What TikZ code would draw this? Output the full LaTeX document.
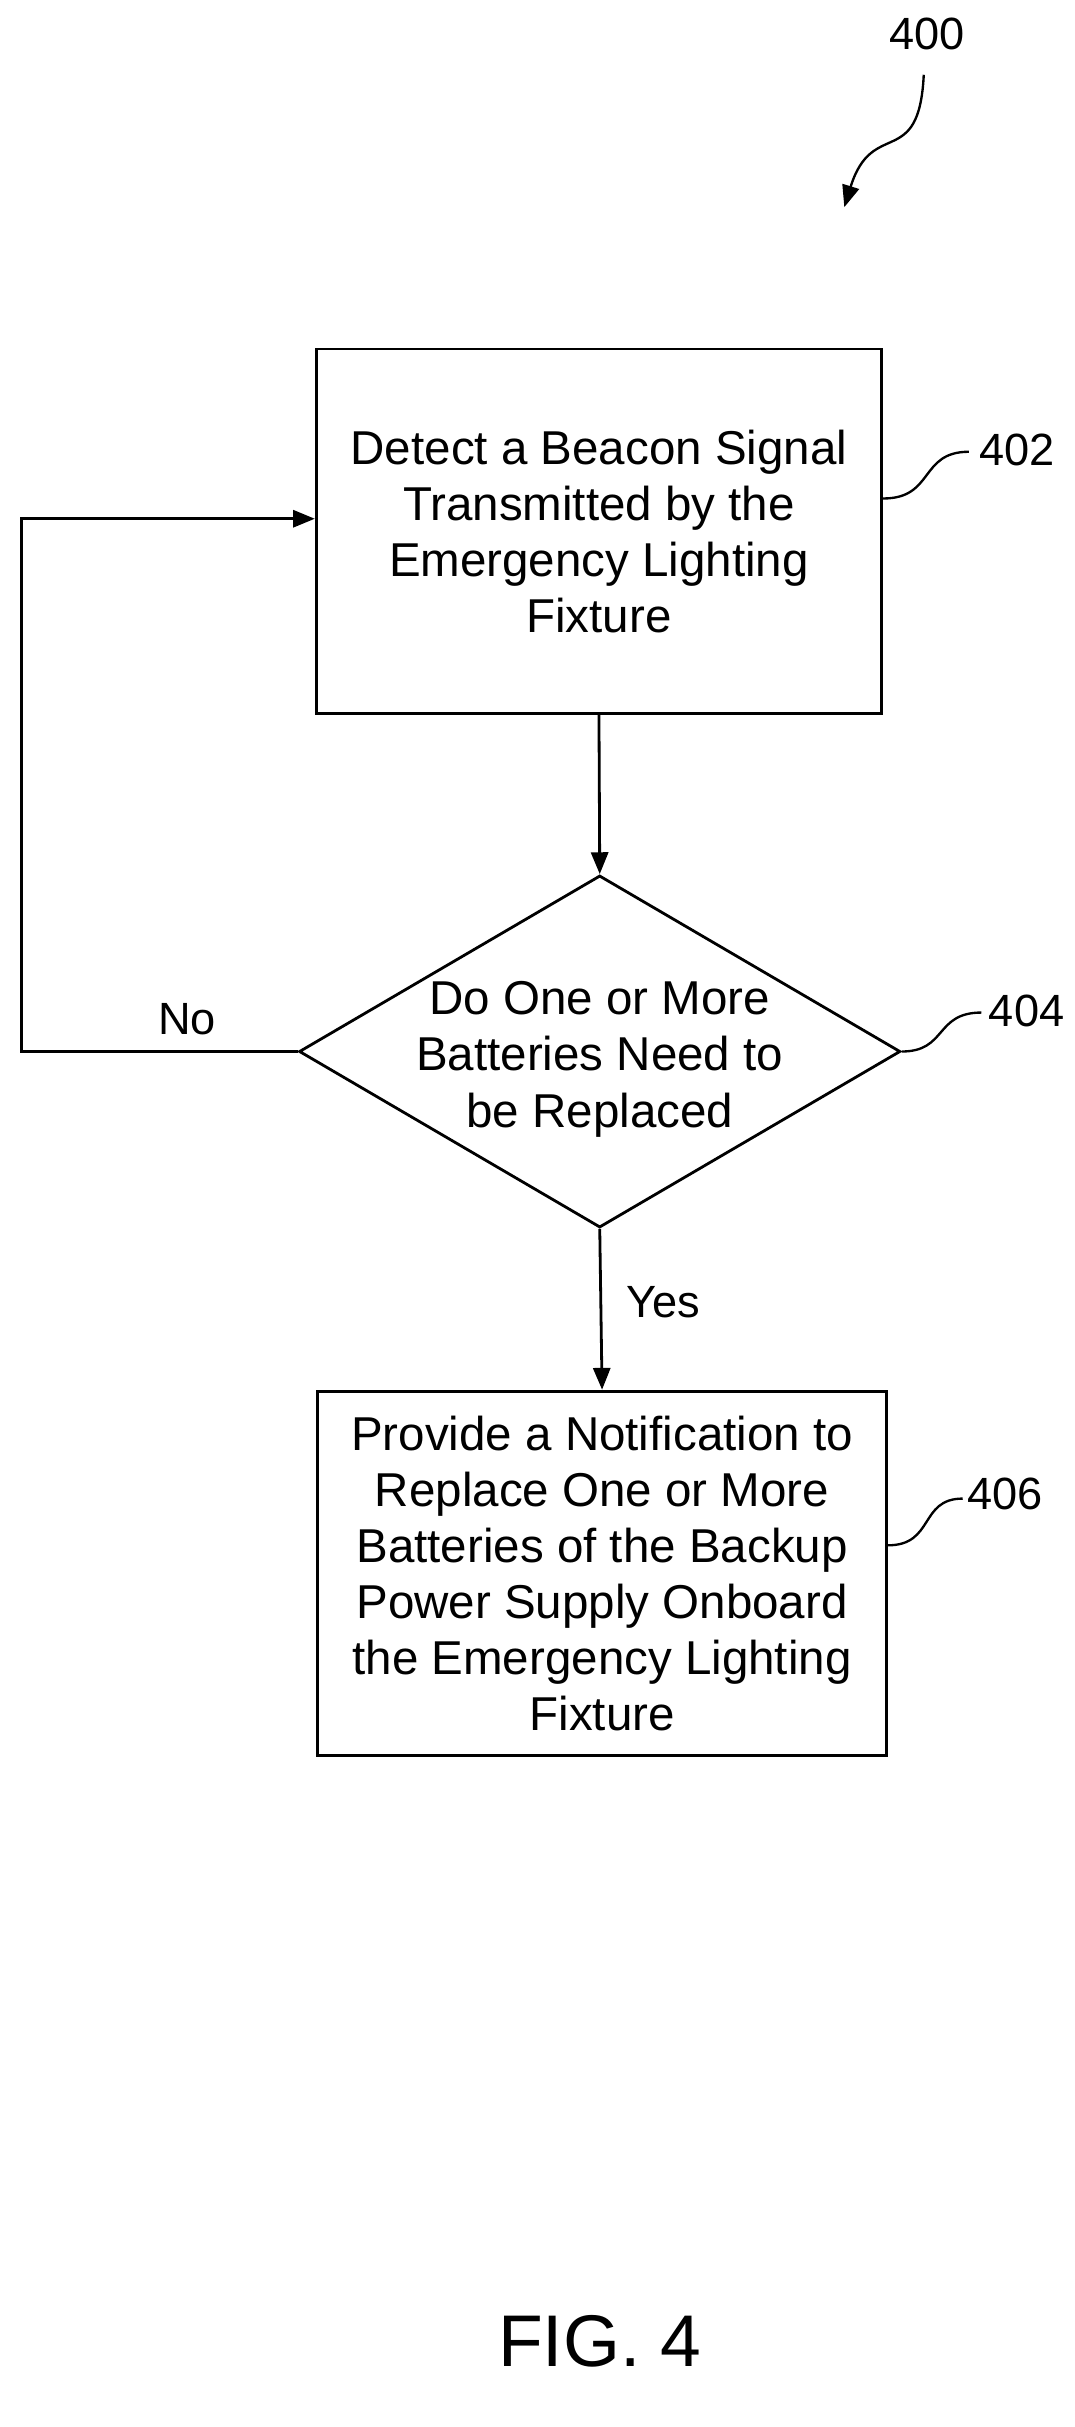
\documentclass[tikz,border=0pt]{standalone}
\usepackage{fontspec}
\setmainfont{Liberation Sans}
\usetikzlibrary{shapes.geometric,arrows.meta}
\begin{document}
\begin{tikzpicture}[x=1pt,y=-1pt,
  box/.style={draw,line width=1.8pt,align=center,inner sep=0pt,font=\fontsize{30.5}{36}\selectfont},
  lbl/.style={font=\fontsize{29}{32}\selectfont},
  arr/.style={line width=1.8pt,-{Triangle[length=14pt,width=11pt]}},
  sq/.style={line width=1.5pt}]
\useasboundingbox (0,0) rectangle (690,1558);
\node[box,minimum width=363pt,minimum height=234pt] (b402) at (384.5,341) {Detect a Beacon Signal\\Transmitted by the\\Emergency Lighting\\Fixture};
\node[box,diamond,minimum width=386pt,minimum height=226pt,aspect=1.7] (d404) at (385,675) {};
\node[align=center,font=\fontsize{30.5}{36}\selectfont] at (385,680) {Do One or More\\Batteries Need to\\be Replaced};
\node[box,minimum width=365pt,minimum height=234pt] (b406) at (386.5,1010) {Provide a Notification to\\Replace One or More\\Batteries of the Backup\\Power Supply Onboard\\the Emergency Lighting\\Fixture};
\draw[arr] (b402.south) -- (d404.north);
\draw[arr] (d404.south) -- (b406.north);
\coordinate (c1) at (14,675);
\coordinate (c2) at (14,333);
\draw[arr] (d404.west) -- (c1) -- (c2) -- (b402.west |- c2);
\node[lbl] (no) at (120,654) {No};
\node[lbl] (yes) at (426,836) {Yes};
\node[lbl] (l400) at (595,22) {400};
\node[lbl] (l402) at (653,289) {402};
\node[lbl] (l404) at (659,649) {404};
\node[lbl] (l406) at (645,959) {406};
\coordinate (s0) at (593,48);
\coordinate (s1) at (542,133);
\draw[sq,-{Triangle[length=14pt,width=11pt]}] (s0) .. controls (590,110) and (560,75) .. (s1);
\draw[sq] (b402.east |- 0,320) .. controls (600,320) and (590,290) .. (622,290);
\draw[sq] (d404.east) .. controls (608,675) and (600,650) .. (630,650);
\draw[sq] (b406.east |- 0,992) .. controls (600,992) and (590,962) .. (618,962);
\node[font=\fontsize{47}{52}\selectfont] (fig) at (385,1503) {FIG. 4};
\end{tikzpicture}
\end{document}
